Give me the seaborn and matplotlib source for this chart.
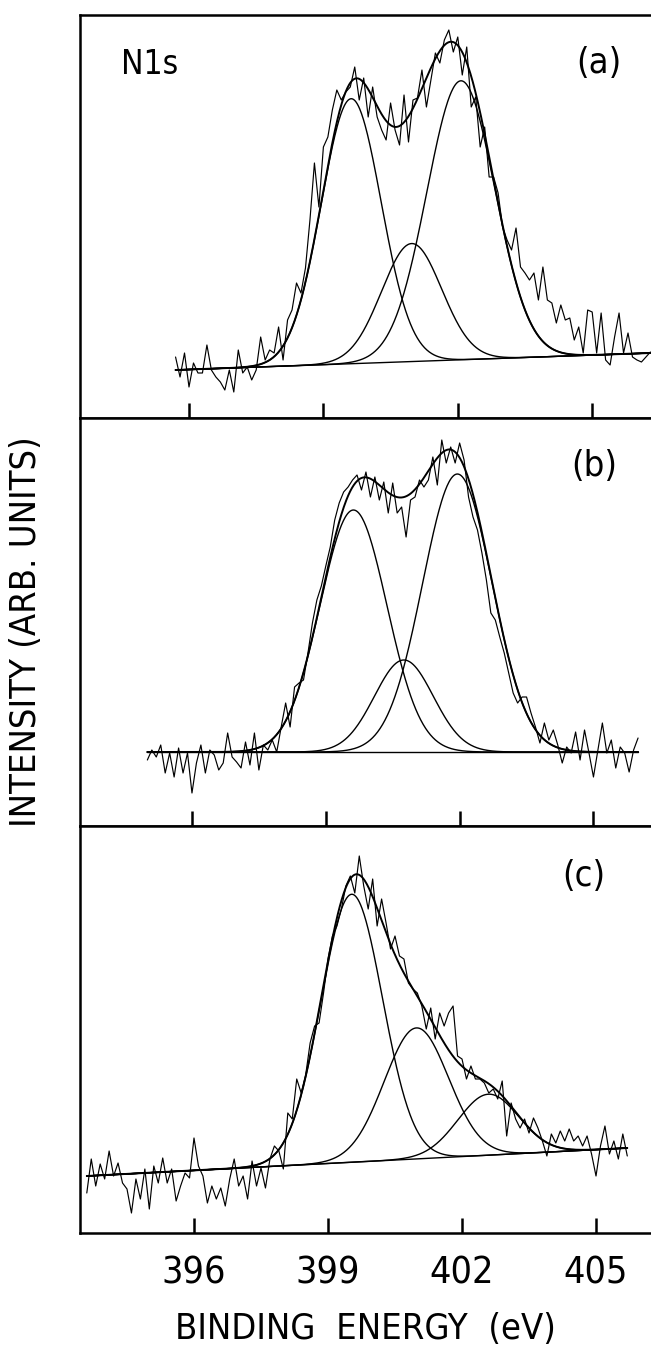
"""
N1s XPS spectra with fitted gaussian components, three stacked panels.
"""

import numpy as np
import pandas as pd
import matplotlib
matplotlib.use("Agg")
import matplotlib.pyplot as plt
import seaborn as sns

# measured spectra, intensity in arb. units on a 0.1 eV grid
step = 0.1
a_start = 395.7
a_counts = [61, 41, 65, 31, 55, 45, 45, 73, 48, 41,
            36, 28, 48, 26, 68, 45, 51, 38, 48, 81,
            58, 68, 65, 91, 58, 98, 108, 135, 125, 150,
            198, 255, 211, 271, 281, 308, 328, 318, 326, 331,
            351, 318, 340, 301, 331, 301, 288, 278, 315, 288,
            273, 323, 276, 318, 320, 348, 311, 338, 365, 355,
            378, 388, 366, 381, 343, 371, 311, 321, 271, 291,
            241, 241, 225, 191, 178, 168, 190, 151, 145, 138,
            145, 118, 151, 118, 115, 95, 113, 98, 100, 78,
            91, 65, 108, 106, 65, 105, 58, 53, 81, 105,
            65, 85, 61, 58, 56, 61, 66]
b_start = 395.0
b_counts = [66, 76, 69, 81, 53, 73, 49, 78, 53, 73,
            33, 63, 81, 53, 76, 71, 56, 63, 93, 69,
            64, 58, 84, 61, 93, 56, 81, 76, 86, 74,
            99, 123, 99, 139, 143, 146, 173, 203, 226, 240,
            260, 279, 306, 323, 334, 339, 346, 351, 336, 354,
            329, 349, 326, 344, 313, 343, 313, 319, 289, 326,
            329, 346, 339, 346, 369, 341, 386, 363, 379, 363,
            383, 366, 329, 309, 296, 273, 246, 213, 206, 189,
            173, 153, 133, 123, 129, 129, 113, 99, 83, 103,
            86, 96, 81, 63, 79, 73, 94, 66, 96, 73,
            49, 76, 103, 73, 86, 58, 79, 73, 54, 76,
            88]
c_start = 393.6
c_counts = [40, 74, 47, 69, 54, 82, 57, 70, 50, 44,
            20, 54, 34, 64, 24, 67, 50, 75, 50, 64,
            32, 47, 60, 55, 95, 67, 57, 30, 47, 34,
            45, 27, 54, 74, 47, 57, 34, 72, 47, 65,
            45, 74, 87, 82, 64, 120, 114, 154, 140, 158,
            190, 207, 210, 240, 274, 297, 307, 324, 347, 357,
            340, 377, 347, 324, 354, 307, 334, 310, 284, 297,
            277, 274, 250, 244, 240, 227, 204, 225, 194, 220,
            207, 220, 227, 177, 174, 154, 167, 154, 154, 150,
            140, 144, 134, 152, 97, 130, 114, 105, 114, 100,
            115, 105, 92, 77, 99, 90, 102, 92, 104, 92,
            97, 87, 97, 79, 57, 87, 107, 79, 92, 74,
            99, 77]

# fitted gaussian peaks: centre (eV), height, sigma (eV)
a_centres = [399.62, 400.97, 402.07]
a_heights = [265, 118, 279]
a_sigmas = [0.67, 0.67, 0.76]
b_centres = [399.62, 400.75, 401.95]
b_heights = [242, 92, 278]
b_sigmas = [0.75, 0.66, 0.78]
c_centres = [399.53, 400.98, 402.59]
c_heights = [268, 131, 61]
c_sigmas = [0.69, 0.72, 0.68]

# linear background: value at first and last point of each scan
a_background = [48, 65]
b_background = [74, 74]
c_background = [57, 85]

panel_labels = ["(a)", "(b)", "(c)"]
tick_values = [396, 399, 402, 405]


def draw_panel(ax, start, counts, centres, heights, sigmas, background):
    """Raw spectrum plus background, components and their sum."""
    energy = start + step * np.arange(len(counts))
    df = pd.DataFrame({"energy": energy, "intensity": counts})
    sns.lineplot(data=df, x="energy", y="intensity", ax=ax,
                 color="black", lw=0.85, estimator=None)

    fine = np.linspace(energy[0], energy[-1], 800)
    bg = np.interp(fine, [energy[0], energy[-1]], background)
    total = bg.copy()
    for c, h, s in zip(centres, heights, sigmas):
        peak = h * np.exp(-0.5 * ((fine - c) / s) ** 2)
        ax.plot(fine, bg + peak, color="black", lw=1.0)
        total += peak
    ax.plot(fine, bg, color="black", lw=1.0)
    ax.plot(fine, total, color="black", lw=1.4)


sns.set_theme(style="ticks")
plt.rcParams["font.family"] = ["Liberation Sans Narrow", "DejaVu Sans"]
plt.rcParams["font.stretch"] = "condensed"
plt.rcParams["text.color"] = "black"
plt.rcParams["axes.labelcolor"] = "black"
plt.rcParams["xtick.color"] = "black"
plt.rcParams["axes.edgecolor"] = "black"

fig = plt.figure(figsize=(6.51, 13.53), dpi=100)

# axes boxes in pixels of the 651x1353 canvas: (top, bottom)
boxes = [(15, 418), (418, 826), (826, 1233)]
xlims = [(393.567, 406.313), (393.49, 406.29), (393.448, 406.231)]
label_pos = [(0.908, 0.882), (0.900, 0.882), (0.883, 0.877)]
panels = [
    (a_start, a_counts, a_centres, a_heights, a_sigmas, a_background),
    (b_start, b_counts, b_centres, b_heights, b_sigmas, b_background),
    (c_start, c_counts, c_centres, c_heights, c_sigmas, c_background),
]

axes = []
for i, (top, bottom) in enumerate(boxes):
    ax = fig.add_axes([80 / 651, 1 - bottom / 1353, 571 / 651, (bottom - top) / 1353])
    draw_panel(ax, *panels[i])
    ax.set_xlim(*xlims[i])
    ax.set_ylim(0, bottom - top)
    ax.set_yticks([])
    ax.set_xticks(tick_values)
    ax.tick_params(axis="x", direction="in", length=11, width=1.8,
                   color="black", labelcolor="black", labelsize=27, pad=16,
                   labelbottom=(i == 2))
    ax.set_xlabel("")
    ax.set_ylabel("")
    for side in ["left", "top", "bottom"]:
        ax.spines[side].set_linewidth(1.8)
        ax.spines[side].set_color("black")
    ax.spines["right"].set_visible(False)
    ax.text(*label_pos[i], panel_labels[i], transform=ax.transAxes,
            ha="center", va="center", fontsize=26, color="black")
    axes.append(ax)

axes[0].text(0.1226, 0.876, "N1s", transform=axes[0].transAxes,
             ha="center", va="center", fontsize=24, color="black")

axes[2].set_xlabel("BINDING  ENERGY  (eV)", fontsize=26, labelpad=15,
                   color="black")
fig.text(26 / 651, 1 - 632 / 1353, "INTENSITY (ARB. UNITS)", rotation=90,
         ha="center", va="center", fontsize=26, color="black")

fig.savefig("out.png", dpi=100)
